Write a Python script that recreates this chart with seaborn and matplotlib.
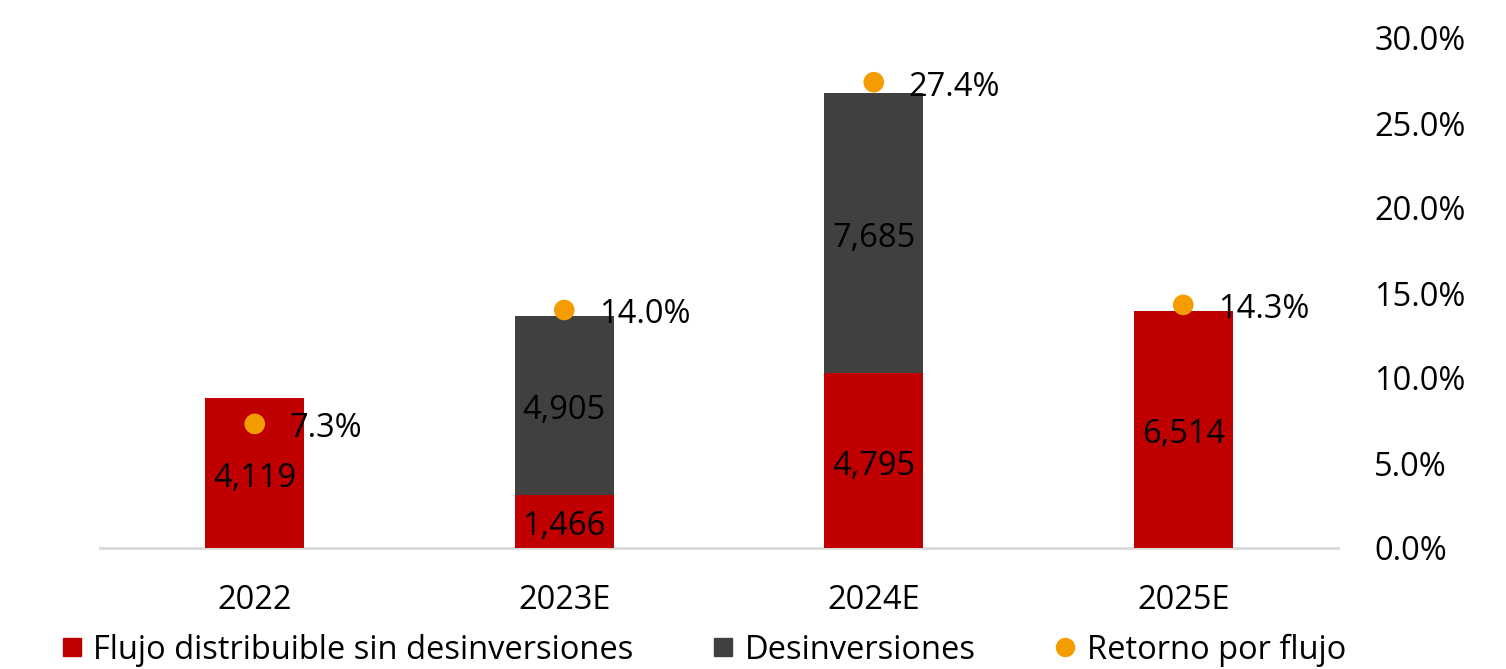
import numpy as np
import matplotlib
matplotlib.use("Agg")
import matplotlib.pyplot as plt
from matplotlib.lines import Line2D
import seaborn as sns

categories = ["2022", "2023E", "2024E", "2025E"]
flujo = [4119, 1466, 4795, 6514]
desinv = [0, 4905, 7685, 0]
retorno = [7.3, 14.0, 27.4, 14.3]

RED = "#C00000"
GRAY = "#404040"
ORANGE = "#F59C00"

sns.set_theme(style="white")
plt.rcParams["font.family"] = ["Open Sans", "DejaVu Sans"]
plt.rcParams["text.color"] = "black"
FS = 23.5

fig = plt.figure(figsize=(15.06, 6.69), dpi=100)
ax = fig.add_axes([100 / 1506, 1 - 548 / 669, (1338 - 100) / 1506, (548 - 38) / 669])

totals = [f + d for f, d in zip(flujo, desinv)]
sns.barplot(x=categories, y=totals, color=GRAY, width=0.32, saturation=1, ax=ax,
            order=categories, linewidth=0, edgecolor="none")
sns.barplot(x=categories, y=flujo, color=RED, width=0.32, saturation=1, ax=ax,
            order=categories, linewidth=0, edgecolor="none")
ax.set_ylim(0, 14000)
ax.set_xlim(-0.5, 3.5)
ax.set_yticks([])
ax.set_ylabel("")
for s in ["top", "left", "right"]:
    ax.spines[s].set_visible(False)
ax.spines["bottom"].set_color("#D9D9D9")
ax.spines["bottom"].set_linewidth(2)
ax.spines["bottom"].set_zorder(0.5)
ax.tick_params(axis="x", length=0, pad=26, labelsize=FS, labelcolor="black")

for i, (f, d) in enumerate(zip(flujo, desinv)):
    ax.annotate(f"{f:,}", (i, f / 2), xytext=(0, -4), textcoords="offset points",
                ha="center", va="center", fontsize=FS, color="black")
    if d > 0:
        ax.annotate(f"{d:,}", (i, f + d / 2), xytext=(0, -4), textcoords="offset points",
                    ha="center", va="center", fontsize=FS, color="black")

ax2 = ax.twinx()
sns.scatterplot(x=np.arange(len(categories)), y=retorno, color=ORANGE, s=220, edgecolor="none", ax=ax2, zorder=5)
ax2.set_ylim(0, 30)
ax2.set_yticks(np.arange(0, 31, 5))
ax2.set_yticklabels([f"{v:.1f}%" for v in np.arange(0, 31, 5)])
ax2.tick_params(axis="y", length=0, pad=26, labelsize=FS, labelcolor="black")
for s in ["top", "left", "right", "bottom"]:
    ax2.spines[s].set_visible(False)
ax2.set_ylabel("")

for i, r in enumerate(retorno):
    ax2.annotate(f"{r:.1f}%", (i, r), xytext=(25, -3.5), textcoords="offset points",
                 ha="left", va="center", fontsize=FS, color="black")

handles = [
    Line2D([0], [0], marker="s", linestyle="none", markersize=13, markerfacecolor=RED, markeredgecolor=RED),
    Line2D([0], [0], marker="s", linestyle="none", markersize=13, markerfacecolor=GRAY, markeredgecolor=GRAY),
    Line2D([0], [0], marker="o", linestyle="none", markersize=13, markerfacecolor=ORANGE, markeredgecolor=ORANGE),
]
labels = ["Flujo distribuible sin desinversiones", "Desinversiones", "Retorno por flujo"]
fig.legend(handles, labels, loc="center", bbox_to_anchor=(0.467, 0.028), ncol=3, frameon=False,
           fontsize=FS, handlelength=0.7, handletextpad=0.3, columnspacing=2.4, borderaxespad=0,
           labelcolor="black")

fig.savefig("out.png", dpi=100)
